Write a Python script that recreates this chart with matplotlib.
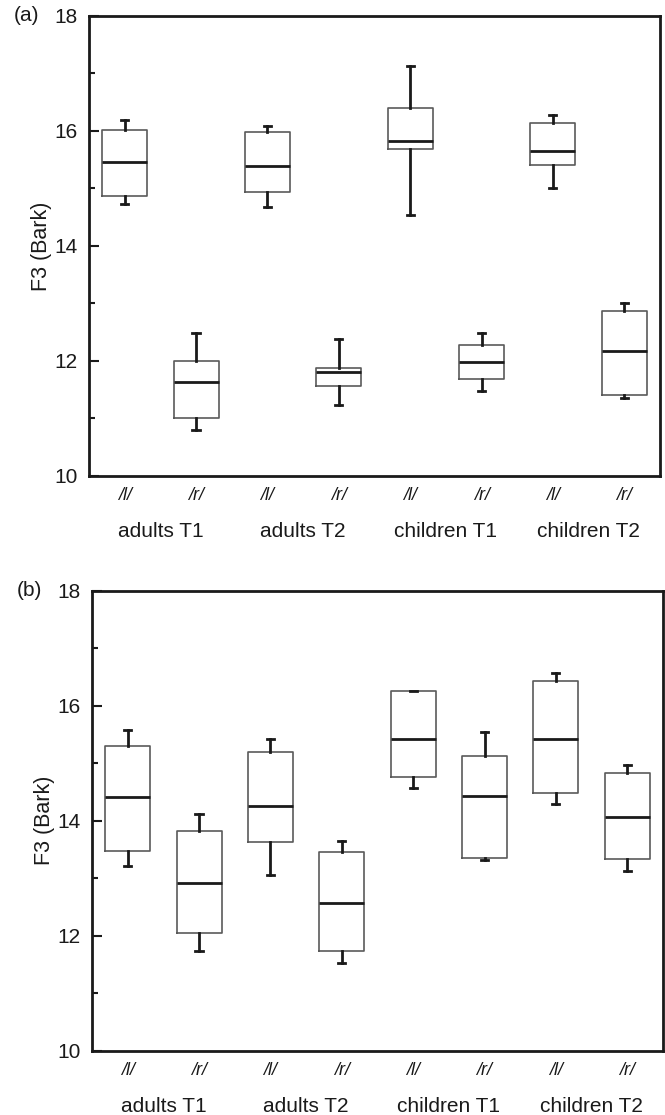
import matplotlib
matplotlib.use('Agg')
import matplotlib.pyplot as plt
from matplotlib.ticker import MultipleLocator

plt.rcParams['font.family'] = ['Liberation Sans', 'DejaVu Sans']

# tick and group labels
phonemes = ['/l/', '/r/', '/l/', '/r/', '/l/', '/r/', '/l/', '/r/']
groups = ['adults T1', 'adults T2', 'children T1', 'children T2']

# panel (a): whisker low, Q1, median, Q3, whisker high
a_low = [14.72, 10.80, 14.67, 11.24, 14.54, 11.48, 15.01, 11.36]
a_q1 = [14.87, 11.00, 14.94, 11.56, 15.69, 11.69, 15.40, 11.40]
a_med = [15.45, 11.63, 15.38, 11.81, 15.83, 11.99, 15.65, 12.18]
a_q3 = [16.02, 12.00, 15.98, 11.87, 16.40, 12.27, 16.13, 12.86]
a_high = [16.18, 12.49, 16.09, 12.38, 17.13, 12.49, 16.28, 13.00]

# panel (b)
b_low = [13.21, 11.74, 13.06, 11.52, 14.57, 13.32, 14.29, 13.13]
b_q1 = [13.48, 12.05, 13.63, 11.73, 14.76, 13.35, 14.48, 13.33]
b_med = [14.41, 12.92, 14.25, 12.57, 15.42, 14.44, 15.42, 14.06]
b_q3 = [15.31, 13.82, 15.19, 13.45, 16.26, 15.13, 16.43, 14.83]
b_high = [15.58, 14.11, 15.42, 13.65, 16.26, 15.55, 16.57, 14.97]


def make_stats(low, q1, med, q3, high):
    return [dict(whislo=lo, q1=a, med=m, q3=b, whishi=hi, fliers=[])
            for lo, a, m, b, hi in zip(low, q1, med, q3, high)]


def draw_panel(ax, stats, tag):
    pos = list(range(1, len(stats) + 1))
    ax.bxp(stats, positions=pos, widths=0.63, capwidths=0.1,
           showfliers=False, patch_artist=False,
           boxprops=dict(color='#5a5a5a', linewidth=1.2),
           medianprops=dict(color='#1a1a1a', linewidth=2.0),
           whiskerprops=dict(color='#1a1a1a', linewidth=2.0),
           capprops=dict(color='#1a1a1a', linewidth=2.0))
    ax.set_xlim(0.5, 8.5)
    ax.set_ylim(10, 18)
    ax.yaxis.set_major_locator(MultipleLocator(2))
    ax.yaxis.set_minor_locator(MultipleLocator(1))
    ax.tick_params(axis='y', which='major', direction='in', length=7,
                   width=1.5, labelsize=15, colors='#1a1a1a', pad=8)
    ax.tick_params(axis='y', which='minor', direction='in', length=4,
                   width=1.5, colors='#1a1a1a')
    ax.set_xticks(pos)
    ax.set_xticklabels(phonemes, fontsize=13, style='italic')
    ax.tick_params(axis='x', length=0, pad=8, colors='#1a1a1a')
    for s in ax.spines.values():
        s.set_linewidth(2)
        s.set_color('#1a1a1a')
    ax.set_ylabel('F3 (Bark)', fontsize=15.5, color='#1a1a1a', labelpad=1.5)
    for i, g in enumerate(groups):
        ax.annotate(g, xy=(2 * i + 1.5, 0), xycoords=('data', 'axes fraction'),
                    xytext=(0, -40), textcoords='offset points',
                    ha='center', va='center', fontsize=15, color='#1a1a1a')
    ax.annotate(tag, xy=(0, 1), xycoords='axes fraction',
                xytext=(-45, 0), textcoords='offset points',
                ha='center', va='center', fontsize=15, color='#1a1a1a')


fig = plt.figure(figsize=(6.65, 11.15), dpi=100)
ax_a = fig.add_axes([0.1338, 0.5731, 0.8586, 0.4128])
ax_b = fig.add_axes([0.1383, 0.0577, 0.8586, 0.4123])

draw_panel(ax_a, make_stats(a_low, a_q1, a_med, a_q3, a_high), '(a)')
draw_panel(ax_b, make_stats(b_low, b_q1, b_med, b_q3, b_high), '(b)')

fig.savefig('out.png', dpi=100)
